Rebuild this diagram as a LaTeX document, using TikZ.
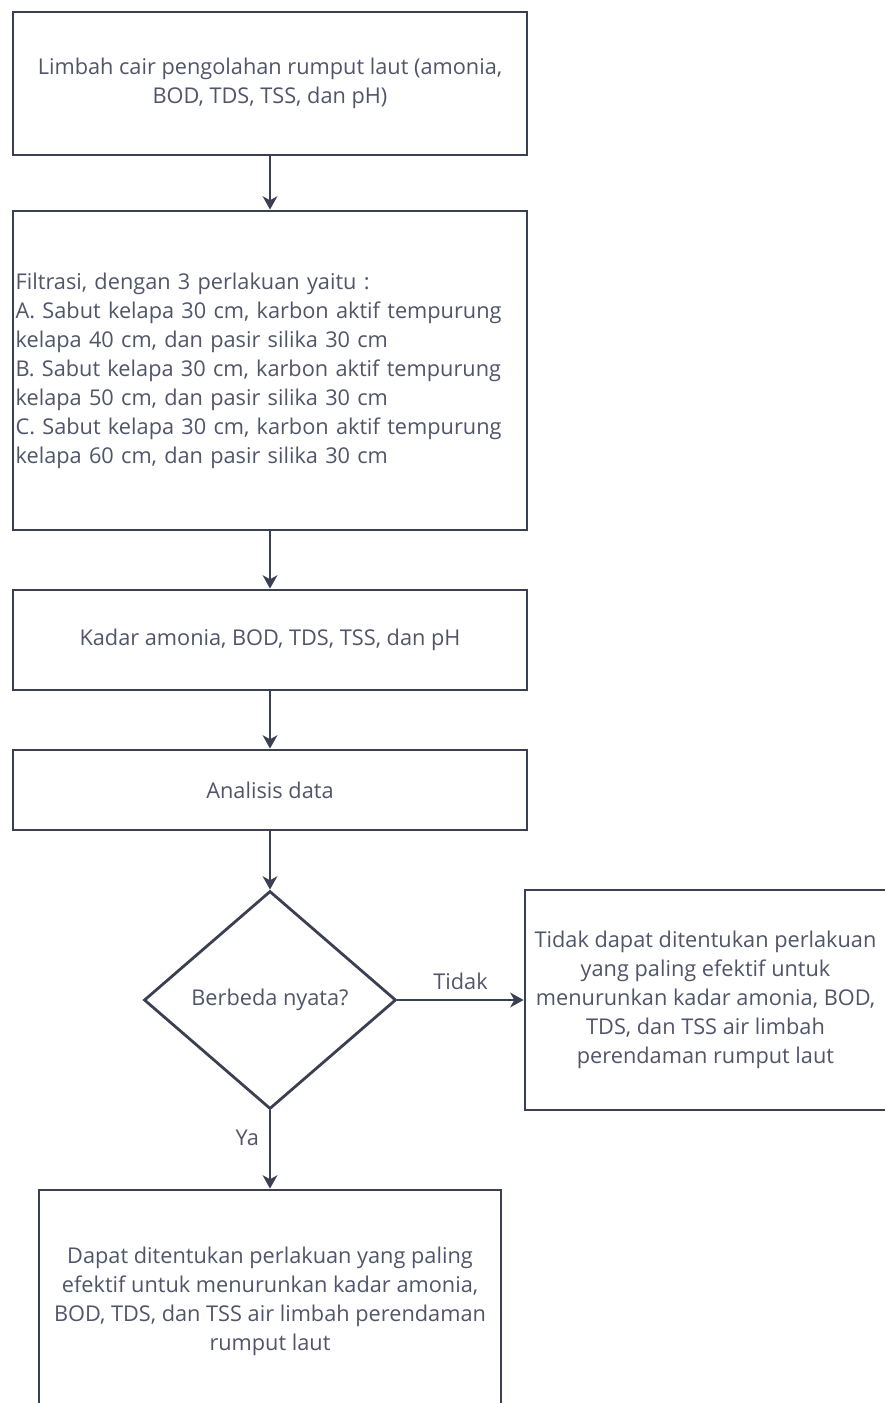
\documentclass[tikz,border=0pt]{standalone}
\usepackage{fontspec}
\setmainfont{Open Sans}
\usepackage{tikz}
\usetikzlibrary{positioning,arrows.meta,shapes.geometric}
\definecolor{flowline}{RGB}{59,63,82}
\definecolor{flowtext}{RGB}{81,85,106}
\tikzset{
  procbox/.style={draw=flowline,line width=2.1pt,fill=white,align=center,font=\fontsize{16.3}{21.75}\selectfont,text=flowtext,inner sep=2pt,minimum width=385.5pt},
  decbox/.style={diamond,draw=flowline,line width=2.1pt,fill=white,align=center,font=\fontsize{16.3}{21.75}\selectfont,text=flowtext,inner sep=0pt,minimum width=189pt,minimum height=163.5pt},
  flow/.style={-{Stealth[length=10pt,width=11pt,inset=3pt]},line width=2.1pt,draw=flowline},
  lbl/.style={font=\fontsize{16.3}{18}\selectfont,text=flowtext},
}
\begin{document}
\begin{tikzpicture}[x=0.75pt,y=-0.75pt]
  \useasboundingbox (0,0) rectangle (885,1403);
  % main column
  \node[procbox,minimum height=107.25pt] (lim) at (270,83.5)
    {Limbah cair pengolahan rumput laut (amonia,\\BOD, TDS, TSS, dan pH)};
  \node[procbox,align=left,text width=381.5pt,minimum height=239.25pt] (fil) at (270,370.5)
    {Filtrasi, dengan 3 perlakuan yaitu :\\
     A. Sabut kelapa 30 cm, karbon aktif tempurung\\
     kelapa 40 cm, dan pasir silika 30 cm\\
     B. Sabut kelapa 30 cm, karbon aktif tempurung\\
     kelapa 50 cm, dan pasir silika 30 cm\\
     C. Sabut kelapa 30 cm, karbon aktif tempurung\\
     kelapa 60 cm, dan pasir silika 30 cm};
  \node[procbox,minimum height=75pt] (kadar) at (270,640) {Kadar amonia, BOD, TDS, TSS, dan pH};
  \node[procbox,minimum height=60pt] (anal) at (270,790) {Analisis data};
  % decision
  \node[decbox] (beda) at (270,1000) {Berbeda nyata?};
  \node[procbox,minimum width=270.75pt,minimum height=165pt] (tidak) at (705.5,1000)
    {Tidak dapat ditentukan perlakuan\\yang paling efektif untuk\\menurunkan kadar amonia, BOD,\\TDS, dan TSS air limbah\\perendaman rumput laut};
  \node[procbox,minimum width=346.5pt,minimum height=166.5pt] (dapat) at (270,1301)
    {Dapat ditentukan perlakuan yang paling\\efektif untuk menurunkan kadar amonia,\\BOD, TDS, dan TSS air limbah perendaman\\rumput laut};
  % arrows
  \draw[flow] (lim) -- (fil);
  \draw[flow] (fil) -- (kadar);
  \draw[flow] (kadar) -- (anal);
  \draw[flow] (anal) -- (beda);
  \draw[flow] (beda.east) -- (tidak.west)
    node[midway,above=3pt,lbl]{Tidak};
  \draw[flow] (beda.south) -- (dapat.north)
    node[pos=0.35,left=4pt,lbl]{Ya};
\end{tikzpicture}
\end{document}
